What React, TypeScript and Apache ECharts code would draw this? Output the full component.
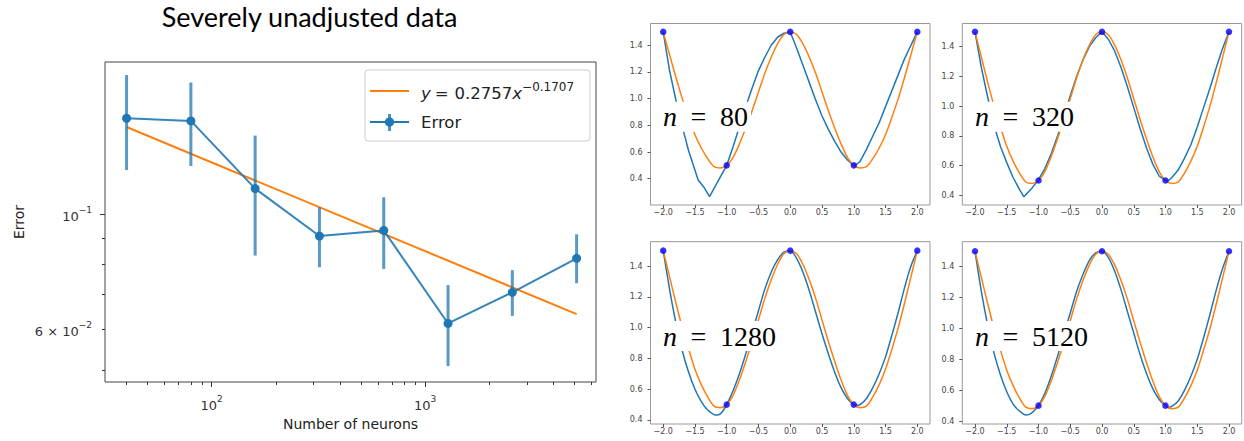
import React, { useEffect, useRef } from 'react';
import * as echarts from 'echarts';

// ---------- Left chart data ----------
const neurons = [40, 80, 160, 320, 640, 1280, 2560, 5120];
const errorMean = [0.1528, 0.151, 0.1119, 0.0907, 0.093, 0.0616, 0.0707, 0.0822];
const errorLow = [0.1215, 0.1237, 0.0832, 0.079, 0.0784, 0.051, 0.0637, 0.0736];
const errorHigh = [0.185, 0.179, 0.1415, 0.103, 0.1077, 0.073, 0.078, 0.0914];
const fitX = [40, 5120];
const fitY = [0.147, 0.0642];

const xMajorTicks = [100, 1000];
const xMinorTicks = [40, 50, 60, 70, 80, 90, 200, 300, 400, 500, 600, 700, 800, 900, 2000, 3000, 4000, 5000, 6000];
const xLabelTexts = ['{m|10}{s|2}', '{m|10}{s|3}'];
const yMajorTicks = [0.1];
const yMinorTicks = [0.05, 0.06, 0.07, 0.08, 0.09];
const yLabelValues = [0.1, 0.06];
const yLabelTexts = ['{m|10}{s|−1}', '{m|6 × 10}{s|−2}'];

// ---------- Right panels data ----------
const panelNs = ['80', '320', '1280', '5120'];
const knotX = [-2, -1, 0, 1, 2];
const knotY = [1.5, 0.5, 1.5, 0.5, 1.5];
const targetX = [-2.0, -1.9, -1.8, -1.7, -1.6, -1.5, -1.4, -1.3, -1.2, -1.1, -1.0, -0.9, -0.8, -0.7, -0.6, -0.5, -0.4, -0.3, -0.2, -0.1, 0,
  0.1, 0.2, 0.3, 0.4, 0.5, 0.6, 0.7, 0.8, 0.9, 1.0, 1.1, 1.2, 1.3, 1.4, 1.5, 1.6, 1.7, 1.8, 1.9, 2.0];
const targetY = [1.50, 1.33, 1.16, 1.00, 0.86, 0.73, 0.63, 0.55, 0.49, 0.48, 0.50, 0.56, 0.66, 0.78, 0.91, 1.05, 1.19, 1.31, 1.41, 1.48, 1.50,
  1.48, 1.41, 1.31, 1.19, 1.05, 0.91, 0.78, 0.66, 0.56, 0.50, 0.48, 0.49, 0.55, 0.63, 0.73, 0.86, 1.00, 1.16, 1.33, 1.50];

const blue80 = [[-2, 1.5], [-1.9, 1.21], [-1.8, 0.99], [-1.7, 0.79], [-1.6, 0.61], [-1.45, 0.39], [-1.35, 0.33], [-1.27, 0.265],
  [-1.15, 0.37], [-1, 0.5], [-0.9, 0.64], [-0.8, 0.79], [-0.7, 0.94], [-0.6, 1.08], [-0.5, 1.21], [-0.4, 1.31], [-0.3, 1.4],
  [-0.2, 1.46], [-0.1, 1.49], [0, 1.5], [0.1, 1.38], [0.2, 1.25], [0.3, 1.12], [0.4, 0.99], [0.5, 0.87], [0.6, 0.77], [0.7, 0.68],
  [0.8, 0.6], [0.9, 0.54], [1, 0.5], [1.05, 0.51], [1.1, 0.53], [1.2, 0.62], [1.3, 0.72], [1.4, 0.82], [1.5, 0.94], [1.6, 1.06],
  [1.7, 1.18], [1.8, 1.3], [1.9, 1.4], [2, 1.5]];
const blue320 = [[-2, 1.5], [-1.9, 1.26], [-1.8, 1.06], [-1.7, 0.87], [-1.6, 0.73], [-1.5, 0.62], [-1.4, 0.52], [-1.3, 0.44],
  [-1.23, 0.39], [-1.1, 0.45], [-1, 0.505], [-0.9, 0.58], [-0.8, 0.68], [-0.7, 0.8], [-0.6, 0.93], [-0.5, 1.07], [-0.4, 1.2],
  [-0.3, 1.31], [-0.2, 1.4], [-0.1, 1.46], [0, 1.5], [0.1, 1.45], [0.2, 1.37], [0.3, 1.26], [0.4, 1.13], [0.5, 0.99], [0.6, 0.85],
  [0.7, 0.72], [0.8, 0.61], [0.9, 0.53], [1, 0.5], [1.05, 0.5], [1.1, 0.52], [1.2, 0.57], [1.3, 0.65], [1.4, 0.74], [1.5, 0.86],
  [1.6, 0.99], [1.7, 1.12], [1.8, 1.26], [1.9, 1.39], [2, 1.5]];
const blue1280 = [[-2, 1.5], [-1.9, 1.25], [-1.8, 1.03], [-1.7, 0.85], [-1.6, 0.71], [-1.5, 0.6], [-1.4, 0.52], [-1.3, 0.465],
  [-1.2, 0.435], [-1.15, 0.432], [-1.1, 0.44], [-1.05, 0.465], [-1, 0.5], [-0.9, 0.59], [-0.8, 0.7], [-0.7, 0.83], [-0.6, 0.97],
  [-0.5, 1.11], [-0.4, 1.25], [-0.3, 1.36], [-0.2, 1.44], [-0.1, 1.49], [0, 1.5], [0.1, 1.45], [0.2, 1.36], [0.3, 1.24], [0.4, 1.1],
  [0.5, 0.96], [0.6, 0.83], [0.7, 0.71], [0.8, 0.61], [0.9, 0.54], [1, 0.5], [1.05, 0.495], [1.1, 0.5], [1.2, 0.54], [1.3, 0.61],
  [1.4, 0.7], [1.5, 0.81], [1.6, 0.95], [1.7, 1.1], [1.8, 1.26], [1.9, 1.4], [2, 1.5]];
const blue5120 = [[-2, 1.5], [-1.9, 1.24], [-1.8, 1.02], [-1.7, 0.84], [-1.6, 0.7], [-1.5, 0.59], [-1.4, 0.51], [-1.3, 0.465],
  [-1.2, 0.44], [-1.15, 0.442], [-1.1, 0.455], [-1.05, 0.475], [-1, 0.5], [-0.9, 0.58], [-0.8, 0.69], [-0.7, 0.82], [-0.6, 0.96],
  [-0.5, 1.1], [-0.4, 1.24], [-0.3, 1.35], [-0.2, 1.44], [-0.1, 1.49], [0, 1.5], [0.1, 1.46], [0.2, 1.37], [0.3, 1.25], [0.4, 1.11],
  [0.5, 0.97], [0.6, 0.83], [0.7, 0.71], [0.8, 0.61], [0.9, 0.54], [1, 0.5], [1.05, 0.49], [1.1, 0.495], [1.2, 0.53], [1.3, 0.6],
  [1.4, 0.69], [1.5, 0.8], [1.6, 0.94], [1.7, 1.09], [1.8, 1.25], [1.9, 1.39], [2, 1.5]];
const blueCurves = [blue80, blue320, blue1280, blue5120];
const blueSmooth = [false, false, true, true];

const smallXTicks = [-2, -1.5, -1, -0.5, 0, 0.5, 1, 1.5, 2];
const smallYTicks = [0.4, 0.6, 0.8, 1.0, 1.2, 1.4];
const smallYRange = [[0.203, 1.563], [0.335, 1.556], [0.374, 1.558], [0.381, 1.562]];

// ---------- Layout ----------
const mainGrid = { left: 105, top: 62, width: 491, height: 320 };
const mainXRange = [1.501, 3.8];
const mainYRange = [-1.323, -0.7077];
const smallGrids = [
  { left: 650.5, top: 23.5, width: 279.5, height: 181.5 },
  { left: 962.3, top: 23.5, width: 279.4, height: 181.5 },
  { left: 650.5, top: 241.7, width: 279.5, height: 182.3 },
  { left: 962.3, top: 241.7, width: 279.4, height: 182.3 },
];
const nLabelPos = [[660, 116.7], [972, 116.7], [660, 336], [972, 336]];

const BLUE = '#1f77b4';
const ORANGE = '#ff7f0e';
const lg = Math.log10;

const tickRich = {
  m: { fontSize: 13, lineHeight: 18, fontFamily: 'DejaVu Sans', color: '#333', verticalAlign: 'bottom' },
  s: { fontSize: 9, lineHeight: 8, fontFamily: 'DejaVu Sans', color: '#333', verticalAlign: 'top' },
};

function fmtSmall(v: number) {
  return v.toFixed(1).replace('-', '−');
}

const hiddenLine = { show: false, onZero: false };

function buildOption() {
  const grids: any[] = [
    { ...mainGrid, show: true, borderColor: '#444', borderWidth: 1, outerBoundsMode: 'none', containLabel: false },
    ...smallGrids.map((g) => ({ ...g, show: true, borderColor: '#999', borderWidth: 1, outerBoundsMode: 'none', containLabel: false })),
  ];

  const xAxes: any[] = [
    {
      type: 'value', gridIndex: 0, min: mainXRange[0], max: mainXRange[1], position: 'bottom',
      axisLine: hiddenLine, splitLine: { show: false },
      axisTick: { show: true, length: 5, lineStyle: { color: '#333' }, customValues: xMajorTicks.map(lg) },
      axisLabel: {
        customValues: xMajorTicks.map(lg), margin: 12, rich: tickRich,
        formatter: (v: number) => {
          const i = xMajorTicks.findIndex((t) => Math.abs(lg(t) - v) < 1e-6);
          return i >= 0 ? xLabelTexts[i] : '';
        },
      },
      name: 'Number of neurons', nameLocation: 'middle', nameGap: 35,
      nameTextStyle: { fontFamily: 'DejaVu Sans', fontSize: 14, color: '#222' },
    },
    {
      type: 'value', gridIndex: 0, min: mainXRange[0], max: mainXRange[1], position: 'bottom',
      axisLine: hiddenLine, splitLine: { show: false }, axisLabel: { show: false },
      axisTick: { show: true, length: 3, lineStyle: { color: '#333' }, customValues: xMinorTicks.map(lg) },
    },
  ];
  const yAxes: any[] = [
    {
      type: 'value', gridIndex: 0, min: mainYRange[0], max: mainYRange[1], position: 'left',
      axisLine: hiddenLine, splitLine: { show: false },
      axisTick: { show: true, length: 5, lineStyle: { color: '#333' }, customValues: yMajorTicks.map(lg) },
      axisLabel: {
        customValues: yLabelValues.map(lg), margin: 13, rich: tickRich,
        formatter: (v: number) => {
          const i = yLabelValues.findIndex((t) => Math.abs(lg(t) - v) < 1e-6);
          return i >= 0 ? yLabelTexts[i] : '';
        },
      },
      name: 'Error', nameLocation: 'middle', nameGap: 79,
      nameTextStyle: { fontFamily: 'DejaVu Sans', fontSize: 14, color: '#222' },
    },
    {
      type: 'value', gridIndex: 0, min: mainYRange[0], max: mainYRange[1], position: 'left',
      axisLine: hiddenLine, splitLine: { show: false }, axisLabel: { show: false },
      axisTick: { show: true, length: 3, lineStyle: { color: '#333' }, customValues: yMinorTicks.map(lg) },
    },
  ];

  smallGrids.forEach((_, i) => {
    xAxes.push({
      type: 'value', gridIndex: i + 1, min: -2.2, max: 2.2, position: 'bottom',
      axisLine: hiddenLine, splitLine: { show: false },
      axisTick: { show: true, length: 3, lineStyle: { color: '#555' }, customValues: smallXTicks },
      axisLabel: { customValues: smallXTicks, formatter: fmtSmall, fontSize: 8, fontFamily: 'DejaVu Sans', color: '#444', margin: 3 },
    });
    yAxes.push({
      type: 'value', gridIndex: i + 1, min: smallYRange[i][0], max: smallYRange[i][1], position: 'left',
      axisLine: hiddenLine, splitLine: { show: false },
      axisTick: { show: true, length: 3, lineStyle: { color: '#555' }, customValues: smallYTicks },
      axisLabel: { customValues: smallYTicks, formatter: fmtSmall, fontSize: 8, fontFamily: 'DejaVu Sans', color: '#444', margin: 8 },
    });
  });

  const series: any[] = [
    {
      type: 'line', xAxisIndex: 0, yAxisIndex: 0, z: 2,
      data: fitX.map((x, i) => [lg(x), lg(fitY[i])]),
      showSymbol: false, lineStyle: { color: ORANGE, width: 2 }, silent: true,
    },
    {
      type: 'custom', xAxisIndex: 0, yAxisIndex: 0, z: 3, silent: true,
      data: neurons.map((n, i) => [lg(n), lg(errorLow[i]), lg(errorHigh[i])]),
      encode: { x: 0, y: [1, 2] },
      renderItem: (params: any, api: any) => {
        const p1 = api.coord([api.value(0), api.value(1)]);
        const p2 = api.coord([api.value(0), api.value(2)]);
        return {
          type: 'line',
          shape: { x1: p1[0], y1: p1[1], x2: p2[0], y2: p2[1] },
          style: { stroke: BLUE, lineWidth: 3, opacity: 0.75 },
        };
      },
    },
    {
      type: 'line', xAxisIndex: 0, yAxisIndex: 0, z: 4, silent: true,
      data: neurons.map((n, i) => [lg(n), lg(errorMean[i])]),
      symbol: 'circle', symbolSize: 9, showSymbol: true,
      itemStyle: { color: BLUE },
      lineStyle: { color: BLUE, width: 2, opacity: 0.9 },
    },
  ];

  blueCurves.forEach((curve, i) => {
    series.push({
      type: 'line', xAxisIndex: i + 2, yAxisIndex: i + 2, z: 2, silent: true,
      data: curve, showSymbol: false, smooth: blueSmooth[i] ? 0.3 : false,
      lineStyle: { color: BLUE, width: 1.5 },
    });
    series.push({
      type: 'line', xAxisIndex: i + 2, yAxisIndex: i + 2, z: 3, silent: true,
      data: targetX.map((x, j) => [x, targetY[j]]), showSymbol: false, smooth: 0.3,
      lineStyle: { color: ORANGE, width: 1.5 },
    });
    series.push({
      type: 'scatter', xAxisIndex: i + 2, yAxisIndex: i + 2, z: 4, silent: true,
      data: knotX.map((x, j) => [x, knotY[j]]), symbol: 'circle', symbolSize: 6.5,
      itemStyle: { color: '#0000ff' },
    });
  });

  const serif = 'Liberation Serif';
  const graphic: any[] = [
    {
      type: 'text', x: 309.5, y: 16, z: 100,
      style: { text: 'Severely unadjusted data', fontFamily: 'Lato', fontSize: 27, fill: '#000', align: 'center', verticalAlign: 'middle' },
    },
    // legend
    {
      type: 'rect', z: 100, shape: { x: 365, y: 70, width: 225, height: 71, r: 3 },
      style: { fill: 'rgba(255,255,255,0.8)', stroke: '#cccccc', lineWidth: 1 },
    },
    { type: 'line', z: 101, shape: { x1: 370, y1: 91, x2: 409, y2: 91 }, style: { stroke: ORANGE, lineWidth: 2 } },
    {
      type: 'text', z: 101, x: 421, y: 91,
      style: {
        text: '{i|y}{e|=}{m|0.2757}{i|x}{s|−0.1707}', align: 'left', verticalAlign: 'middle',
        rich: {
          i: { fontFamily: 'DejaVu Sans', fontStyle: 'italic', fontSize: 16.5, lineHeight: 21, fill: '#222', verticalAlign: 'bottom' },
          e: { fontFamily: 'DejaVu Sans', fontSize: 16.5, lineHeight: 21, fill: '#222', verticalAlign: 'bottom', padding: [0, 6, 0, 4] },
          m: { fontFamily: 'DejaVu Sans', fontSize: 16.5, lineHeight: 21, fill: '#222', verticalAlign: 'bottom' },
          s: { fontFamily: 'DejaVu Sans', fontSize: 12, lineHeight: 9, fill: '#222', verticalAlign: 'top' },
        },
      },
    },
    { type: 'line', z: 101, shape: { x1: 370, y1: 122, x2: 409, y2: 122 }, style: { stroke: BLUE, lineWidth: 2 } },
    { type: 'line', z: 101, shape: { x1: 389.5, y1: 114, x2: 389.5, y2: 131 }, style: { stroke: BLUE, lineWidth: 3, opacity: 0.8 } },
    { type: 'circle', z: 102, shape: { cx: 389.5, cy: 122, r: 4.7 }, style: { fill: BLUE } },
    {
      type: 'text', z: 101, x: 421, y: 122,
      style: { text: 'Error', fontFamily: 'DejaVu Sans', fontSize: 16.5, fill: '#222', align: 'left', verticalAlign: 'middle' },
    },
  ];

  panelNs.forEach((n, i) => {
    graphic.push({
      type: 'text', z: 100, x: nLabelPos[i][0], y: nLabelPos[i][1],
      style: {
        text: `{n|n}{e|=}{d|${n}}`, align: 'left', verticalAlign: 'middle',
        backgroundColor: '#ffffff', padding: [1, 3, 1, 3],
        rich: {
          n: { fontFamily: serif, fontStyle: 'italic', fontSize: 28, fill: '#000' },
          e: { fontFamily: serif, fontSize: 28, fill: '#000', width: 43, align: 'center' },
          d: { fontFamily: serif, fontSize: 28, fill: '#000' },
        },
      },
    });
  });

  return {
    animation: false,
    backgroundColor: '#ffffff',
    grid: grids,
    xAxis: xAxes,
    yAxis: yAxes,
    series,
    graphic,
  };
}

export default function App() {
  const ref = useRef<HTMLDivElement>(null);
  useEffect(() => {
    const chart = echarts.init(ref.current as HTMLDivElement, null, { renderer: 'svg' });
    chart.setOption(buildOption() as any);
    return () => chart.dispose();
  }, []);
  return <div ref={ref} style={{ position: 'absolute', left: 0, top: 0, width: 1244, height: 441, background: '#fff' }} />;
}
